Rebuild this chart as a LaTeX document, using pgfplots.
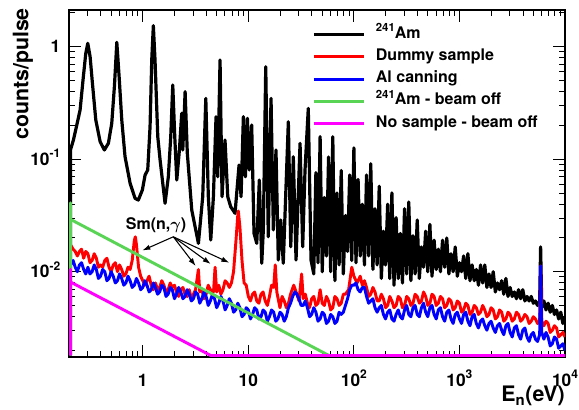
\documentclass[border=0pt]{standalone}
\usepackage{pgfplots}
\pgfplotsset{compat=1.18}
\usepackage{bm}
\usepackage{fontspec}
\setmainfont{TeX Gyre Heros}
\usetikzlibrary{arrows.meta}

\definecolor{rootgreen}{RGB}{89,212,84}
\definecolor{rootmagenta}{RGB}{255,0,255}
\definecolor{rootred}{RGB}{255,0,0}
\definecolor{rootblue}{RGB}{0,0,255}
\newcommand{\pw}[1]{10\raisebox{0.42em}{\fontsize{9}{9}\selectfont #1}}
\newcommand{\am}{\raisebox{0.42em}{\fontsize{8.5}{8.5}\selectfont 241}Am}

\begin{document}
\begin{tikzpicture}
\useasboundingbox (-51.75pt,-39.75pt) rectangle (382.5pt,267.75pt);
\begin{axis}[
  at={(0pt,0pt)}, anchor=south west,
  scale only axis, width=372pt, height=260.25pt,
  xmode=log, ymode=log,
  xmin=0.2, xmax=10000, ymin=0.001745, ymax=2.12,
  axis line style={line width=1pt},
  tick align=inside,
  major tick length=9pt, minor tick length=4.5pt,
  every tick/.style={black, line width=0.7pt},
  xtick={1,10,100,1000,10000},
  xticklabels={1,10,\pw{2},\pw{3},\pw{4}},
  minor xtick={0.2,0.3,0.4,0.5,0.6,0.7,0.8,0.9,2,3,4,5,6,7,8,9,20,30,40,50,60,70,80,90,200,300,400,500,600,700,800,900,2000,3000,4000,5000,6000,7000,8000,9000},
  ytick={0.01,0.1,1},
  yticklabels={\pw{-2},\pw{-1},1},
  minor ytick={0.002,0.003,0.004,0.005,0.006,0.007,0.008,0.009,0.02,0.03,0.04,0.05,0.06,0.07,0.08,0.09,0.2,0.3,0.4,0.5,0.6,0.7,0.8,0.9,2},
  ticklabel style={font=\fontsize{13}{13}\selectfont\bfseries},
  xticklabel style={anchor=base, yshift=-21.75pt},
  yticklabel style={anchor=base east, xshift=-3pt, yshift=-4.5pt},
  legend style={at={(0.482,0.961)}, anchor=north west, draw=none, fill=none,
    font=\fontsize{12}{14}\selectfont\bfseries, row sep=4.1pt, column sep=8pt,
    nodes={inner sep=0pt, text height=9pt, text depth=3.5pt}},
  legend cell align=left,
  legend image code/.code={\draw[#1, line width=2.2pt] (0pt,0pt) -- (37.5pt,0pt);},
  every axis plot/.append style={line width=2.2pt, line join=round, mark=none},
]

% 241Am
\addplot[black, line width=2.4pt] coordinates {
(0.2065,0.0018) (0.2065,0.1208) (0.2203,0.1483) (0.2371,0.2014) (0.2547,0.2735)
(0.2735,0.5408) (0.2884,0.873) (0.3013,1.072) (0.317,0.8147) (0.3334,0.4732)
(0.3589,0.2228) (0.3945,0.1432) (0.4325,0.1208) (0.4721,0.1384) (0.5082,0.2084)
(0.5383,0.4406) (0.5675,1.094) (0.597,0.5408) (0.6324,0.2228) (0.6792,0.1052)
(0.7586,0.06109) (0.8453,0.04487) (0.9078,0.04335) (0.9908,0.05321) (1.052,0.07244)
(1.114,0.08017) (1.172,0.1945) (1.216,0.7621) (1.259,1.538) (1.306,0.7621)
(1.387,0.1585) (1.459,0.0984) (1.626,0.04055) (1.746,0.06982) (1.841,0.1585)
(1.923,0.4571) (2.009,0.1585) (2.099,0.06531) (2.223,0.1208) (2.339,0.2559)
(2.393,0.1208) (2.518,0.3981) (2.642,0.1127) (2.911,0.03532) (3.365,0.01786)
(3.698,0.04645) (3.954,0.3475) (4.178,0.04645) (4.406,0.01914) (4.667,0.04645)
(4.943,0.2388) (5.129,0.06982) (5.395,0.7621) (5.636,0.04645) (6.012,0.1483)
(6.383,0.04645) (6.808,0.03784) (7.482,0.03304) (8.166,0.08872) (8.531,0.04645)
(8.974,0.2388) (9.376,0.06982) (9.795,0.2312) (10.21,0.08017) (10.76,0.2014)
(11.32,0.02193) (12.02,0.01786) (12.71,0.06531) (13.40,0.01189) (13.87,0.0235)
(14.62,0.6637) (15.45,0.02046) (16.41,0.3475) (17.26,0.0235) (18.28,0.1208)
(19.23,0.01271) (20.28,0.02884) (21.43,0.01189) (23.93,0.2153) (25.23,0.01667)
(26.67,0.1052) (28.31,0.01271) (30.90,0.1384) (32.73,0.01667) (34.44,0.08017)
(36.98,0.2831) (39.26,0.01271)
(41.69,0.00955) (43.65,0.07586) (45.71,0.01202) (47.86,0.1585) (50.12,0.0100)
(52.48,0.04571) (54.95,0.0138) (57.54,0.1047) (60.26,0.0100) (63.10,0.1585)
(66.07,0.008318) (69.18,0.05012) (72.44,0.01148) (75.86,0.07943) (79.43,0.00955)
(83.18,0.03162) (87.10,0.01514) (91.20,0.07244) (95.50,0.01259) (100,0.1259)
(104.7,0.01202) (109.6,0.06607) (114.8,0.0138) (120.2,0.03981) (125.9,0.01148)
(131.8,0.07244) (138.0,0.0138) (144.5,0.0912) (151.4,0.01047) (158.5,0.03631)
(166.0,0.01148) (173.8,0.05754) (182.0,0.00871) (190.5,0.02291) (199.5,0.01148)
(208.9,0.03981) (218.8,0.00871) (229.1,0.05012) (239.9,0.007586) (251.2,0.0302)
(263.0,0.00871) (275.4,0.02188) (288.4,0.007943) (302.0,0.03631) (316.2,0.00955)
(331.1,0.04169) (346.7,0.008318) (363.1,0.02089) (380.2,0.00955) (398.1,0.02884)
(416.9,0.00871) (436.5,0.0166) (457.1,0.01096) (478.6,0.02291) (501.2,0.0100)
(524.8,0.0263) (549.5,0.00912) (575.4,0.01905) (602.6,0.01047) (631.0,0.01585)
(660.7,0.0100) (691.8,0.01905) (724.4,0.01096) (758.6,0.01995) (794.3,0.00955)
(831.8,0.01445) (871.0,0.0100) (912.0,0.0166) (955.0,0.00912) (1000,0.01202)
(1047,0.0100) (1096,0.0138) (1148,0.00871) (1202,0.01445) (1259,0.008318)
(1318,0.01148) (1380,0.008318) (1445,0.01047) (1514,0.007586) (1585,0.01148)
(1660,0.007943) (1738,0.01148) (1820,0.007244) (1905,0.00955) (1995,0.007244)
(2089,0.0100) (2188,0.006607) (2291,0.007943) (2399,0.006918) (2512,0.008318)
(2630,0.00631) (2754,0.00871) (2884,0.006026) (3020,0.007244) (3162,0.006026)
(3311,0.006607) (3467,0.005754) (3631,0.006918) (3802,0.005754) (3981,0.006918)
(4169,0.005495) (4365,0.006026) (4571,0.005495) (4786,0.006026) (5012,0.005248)
(5248,0.005495) (5495,0.005012) (5754,0.005495) (5875,0.0166) (6026,0.004786)
(6310,0.005495) (6607,0.004571) (6918,0.005248) (7244,0.004365) (7586,0.005012)
(7943,0.004169) (8318,0.004571) (8710,0.003802) (9120,0.004365) (9550,0.003467)
(10000,0.003981)
};
\addlegendentry{\am}

% Dummy sample
\addplot[rootred] coordinates {
(0.2065,0.0018) (0.2065,0.01738) (0.2188,0.01585) (0.2291,0.01514) (0.2399,0.0138)
(0.2512,0.01514) (0.2630,0.01585) (0.2754,0.01318) (0.2884,0.01514) (0.3020,0.01445)
(0.3162,0.01202) (0.3311,0.01259) (0.3467,0.01445) (0.3631,0.01318) (0.3802,0.01096)
(0.3981,0.01148) (0.4169,0.01096) (0.4365,0.01259) (0.4571,0.01318) (0.4786,0.01096)
(0.5012,0.0100) (0.5248,0.01148) (0.5495,0.01202) (0.5754,0.0100) (0.6026,0.01148)
(0.6310,0.01047) (0.6607,0.00912) (0.6918,0.00955) (0.7244,0.01096) (0.7586,0.01047)
(0.7943,0.01259) (0.8318,0.01905) (0.8511,0.02042) (0.8710,0.01738) (0.9120,0.01096)
(0.9550,0.00912) (1,0.008318) (1.047,0.007586) (1.096,0.008318) (1.148,0.00912)
(1.202,0.007586) (1.259,0.006918) (1.318,0.007943) (1.380,0.006918) (1.445,0.007244)
(1.514,0.008318) (1.585,0.007586) (1.660,0.006607) (1.738,0.006918) (1.820,0.007943)
(1.905,0.007244) (1.995,0.007586) (2.089,0.006607) (2.188,0.006026) (2.291,0.006918)
(2.399,0.007244) (2.512,0.00631) (2.630,0.006026) (2.754,0.006918) (2.884,0.005754)
(3.020,0.00631) (3.162,0.006918) (3.365,0.01047) (3.467,0.006607) (3.631,0.006918)
(3.802,0.005754) (3.981,0.00631) (4.169,0.007586) (4.365,0.006918) (4.677,0.006607)
(4.842,0.01096) (5.012,0.006607) (5.248,0.007586) (5.495,0.00631) (5.754,0.006918)
(6.026,0.008318) (6.310,0.007943) (6.607,0.007244) (6.918,0.007943) (7.244,0.0100)
(7.586,0.01738) (7.943,0.03162) (8.035,0.03467) (8.318,0.02512) (8.710,0.01259)
(9.120,0.007943) (9.550,0.007586) (10,0.006026) (10.47,0.005495) (10.96,0.00631)
(11.48,0.006607) (12.02,0.005495) (12.59,0.005248) (13.18,0.00631) (13.80,0.006607)
(14.45,0.005495) (15.14,0.005012) (15.85,0.006026) (16.60,0.007586) (17.38,0.007244)
(17.99,0.01148) (18.62,0.006607) (19.95,0.004786) (20.89,0.006026) (21.88,0.005495)
(22.91,0.004786) (23.99,0.005248) (25.12,0.00631) (26.92,0.007586) (28.84,0.00631)
(30.20,0.005495) (31.99,0.00955) (33.11,0.005754) (34.67,0.00631) (36.31,0.005248)
(38.02,0.004786) (39.81,0.005754) (41.69,0.006026) (43.65,0.005012) (45.71,0.005248)
(47.86,0.006918) (50.12,0.005248) (52.48,0.005012) (54.95,0.006026) (57.54,0.005495)
(60.26,0.004571) (63.10,0.004786) (66.07,0.006026) (69.18,0.005754) (72.44,0.005012)
(75.86,0.005248) (79.43,0.00631) (83.18,0.00631) (89.13,0.006918) (95.50,0.01096)
(100,0.00912) (107.2,0.007943) (114.8,0.00912) (120.2,0.007586) (125.9,0.008318)
(131.8,0.007244) (138.0,0.006026) (144.5,0.00631) (151.4,0.007244) (158.5,0.006607)
(166.0,0.005495) (173.8,0.005495) (182.0,0.00631) (190.5,0.005754) (199.5,0.004786)
(208.9,0.005012) (218.8,0.006026) (229.1,0.005495) (239.9,0.004786) (251.2,0.005012)
(263.0,0.006026) (275.4,0.005754) (288.4,0.004786) (302.0,0.005012) (316.2,0.006026)
(331.1,0.005754) (346.7,0.005012) (363.1,0.005248) (380.2,0.00631) (398.1,0.006026)
(416.9,0.005248) (436.5,0.005495) (457.1,0.006607) (478.6,0.006026) (501.2,0.005012)
(524.8,0.005248) (549.5,0.00631) (575.4,0.006026) (602.6,0.005012) (631.0,0.005248)
(660.7,0.006026) (691.8,0.005754) (724.4,0.004786) (758.6,0.005012) (794.3,0.005754)
(831.8,0.005495) (871.0,0.004571) (912.0,0.004786) (955.0,0.005495) (1000,0.005248)
(1047,0.004365) (1096,0.004571) (1148,0.005248) (1202,0.005012) (1259,0.004169)
(1318,0.004365) (1380,0.005012) (1445,0.004786) (1514,0.004169) (1585,0.004365)
(1660,0.005012) (1738,0.004571) (1820,0.003981) (1905,0.004169) (1995,0.004786)
(2089,0.004571) (2188,0.003802) (2291,0.003981) (2399,0.004571) (2512,0.004365)
(2630,0.003631) (2754,0.003802) (2884,0.004365) (3020,0.004169) (3162,0.003631)
(3311,0.003802) (3467,0.004365) (3631,0.004169) (3802,0.003631) (3981,0.003802)
(4169,0.004169) (4365,0.003981) (4571,0.003467) (4786,0.003631) (5012,0.003981)
(5248,0.003802) (5495,0.003467) (5754,0.003631) (5875,0.01122) (6026,0.003631)
(6310,0.003311) (6607,0.003631) (6918,0.003467) (7244,0.002884) (7586,0.003020)
(7943,0.003311) (8318,0.003162) (8710,0.00263) (9120,0.002754) (9550,0.002884)
(10000,0.00263)
};
\addlegendentry{Dummy sample}

% Al canning
\addplot[rootblue] coordinates {
(0.2065,0.0018) (0.2065,0.01148) (0.2188,0.01259) (0.2291,0.01096) (0.2399,0.0100)
(0.2512,0.01148) (0.2630,0.01202) (0.2754,0.01047) (0.2884,0.00955) (0.3020,0.01096)
(0.3162,0.00955) (0.3311,0.0100) (0.3467,0.01148) (0.3631,0.01047) (0.3802,0.00871)
(0.3981,0.00912) (0.4169,0.01047) (0.4365,0.0100) (0.4571,0.008318) (0.4786,0.00871)
(0.5012,0.0100) (0.5248,0.00912) (0.5495,0.007943) (0.5754,0.008318) (0.6026,0.00955)
(0.6310,0.00871) (0.6607,0.007586) (0.6918,0.007943) (0.7244,0.00912) (0.7586,0.008318)
(0.7943,0.007244) (0.8318,0.007586) (0.8710,0.00871) (0.9120,0.007943) (0.9550,0.006918)
(1,0.007244) (1.047,0.008318) (1.096,0.007586) (1.148,0.006607) (1.202,0.006918)
(1.259,0.007943) (1.318,0.007244) (1.380,0.00631) (1.445,0.006607) (1.514,0.007586)
(1.585,0.007244) (1.660,0.006026) (1.738,0.00631) (1.820,0.007244) (1.905,0.006918)
(1.995,0.005754) (2.089,0.00631) (2.188,0.007244) (2.291,0.006607) (2.399,0.005754)
(2.512,0.006026) (2.630,0.006918) (2.754,0.00631) (2.884,0.005495) (3.020,0.005754)
(3.162,0.006607) (3.311,0.00631) (3.467,0.005248) (3.631,0.005754) (3.802,0.006607)
(3.981,0.006026) (4.169,0.005012) (4.365,0.005495) (4.571,0.00631) (4.786,0.005754)
(5.012,0.004786) (5.248,0.005248) (5.495,0.006026) (5.754,0.005495) (6.026,0.004571)
(6.310,0.005012) (6.607,0.005754) (6.918,0.005248) (7.244,0.004365) (7.586,0.004571)
(7.943,0.005248) (8.318,0.004786) (8.710,0.003981) (9.120,0.004169) (9.550,0.004786)
(10,0.004571) (10.47,0.003802) (10.96,0.004169) (11.48,0.004786) (12.02,0.004571)
(12.59,0.003802) (13.18,0.003981) (13.80,0.004571) (14.45,0.004365) (15.14,0.003631)
(15.85,0.003981) (16.60,0.004571) (17.38,0.004365) (18.20,0.003631) (19.05,0.003802)
(19.95,0.004365) (20.89,0.004169) (21.88,0.003631) (22.91,0.003981) (23.99,0.004786)
(25.12,0.005248) (26.30,0.006026) (27.54,0.006607) (28.84,0.00631) (30.20,0.005754)
(31.62,0.005012) (33.11,0.005012) (34.67,0.005495) (36.31,0.004786) (38.02,0.003981)
(39.81,0.004169) (41.69,0.004786) (43.65,0.004365) (45.71,0.003631) (47.86,0.003802)
(50.12,0.004365) (52.48,0.004169) (54.95,0.003467) (57.54,0.003631) (60.26,0.004169)
(63.10,0.003981) (66.07,0.003467) (69.18,0.003631) (72.44,0.004365) (75.86,0.004169)
(79.43,0.004365) (83.18,0.005012) (87.10,0.005754) (91.20,0.006918) (95.50,0.007586)
(100,0.007586) (104.7,0.007943) (109.6,0.006918) (114.8,0.006607) (120.2,0.007244)
(125.9,0.007244) (131.8,0.006026) (138.0,0.005248) (144.5,0.005495) (151.4,0.005754)
(158.5,0.004786) (166.0,0.004365) (173.8,0.004786) (182.0,0.005012) (190.5,0.004169)
(199.5,0.003802) (208.9,0.004365) (218.8,0.004571) (229.1,0.003802) (239.9,0.003631)
(251.2,0.004169) (263.0,0.004571) (275.4,0.003981) (288.4,0.003802) (302.0,0.004571)
(316.2,0.005012) (331.1,0.004169) (346.7,0.003981) (363.1,0.004786) (380.2,0.005012)
(398.1,0.004169) (416.9,0.003981) (436.5,0.004786) (457.1,0.005248) (478.6,0.004365)
(501.2,0.003981) (524.8,0.004786) (549.5,0.005012) (575.4,0.004169) (602.6,0.003802)
(631.0,0.004571) (660.7,0.004786) (691.8,0.003981) (724.4,0.003631) (758.6,0.004365)
(794.3,0.004571) (831.8,0.003802) (871.0,0.003467) (912.0,0.004169) (955.0,0.004365)
(1000,0.003802) (1047,0.003467) (1096,0.004169) (1148,0.004365) (1202,0.003631)
(1259,0.003311) (1318,0.003981) (1380,0.004169) (1445,0.003467) (1514,0.003162)
(1585,0.003631) (1660,0.003802) (1738,0.003311) (1820,0.00302) (1905,0.003467)
(1995,0.003631) (2089,0.003162) (2188,0.002884) (2291,0.003311) (2399,0.003467)
(2512,0.00302) (2630,0.002754) (2754,0.003311) (2884,0.003467) (3020,0.002884)
(3162,0.00263) (3311,0.003162) (3467,0.003311) (3631,0.002754) (3802,0.002512)
(3981,0.00302) (4169,0.003162) (4365,0.00263) (4571,0.002399) (4786,0.002754)
(5012,0.002884) (5248,0.002512) (5495,0.002399) (5754,0.002754) (5875,0.01122)
(6026,0.002884) (6310,0.002512) (6607,0.002884) (6918,0.00263) (7244,0.002188)
(7586,0.002291) (7943,0.00263) (8318,0.002512) (8710,0.002089) (9120,0.002188)
(9550,0.002291) (10000,0.001995)
};
\addlegendentry{Al canning}

% 241Am - beam off
\addplot[rootgreen] coordinates {
(0.2065,0.0018) (0.2065,0.041) (0.2065,0.0292) (58,0.0018) (10000,0.0018)
};
\addlegendentry{\am{} - beam off}

% No sample - beam off
\addplot[rootmagenta] coordinates {
(0.2065,0.0018) (0.2065,0.0105) (0.2065,0.0081) (4.4,0.0018) (10000,0.0018)
};
\addlegendentry{No sample - beam off}

\node[font=\fontsize{12}{12}\selectfont\bfseries] at (rel axis cs:0.1754,0.3804) {Sm(n,$\bm{\gamma}$)};
\draw[line width=0.8pt, -{Latex[length=6pt,width=4pt]}] (rel axis cs:0.2103,0.3464) -- (rel axis cs:0.1478,0.3069);
\draw[line width=0.8pt, -{Latex[length=6pt,width=4pt]}] (rel axis cs:0.2103,0.3464) -- (rel axis cs:0.2554,0.2622);
\draw[line width=0.8pt, -{Latex[length=6pt,width=4pt]}] (rel axis cs:0.2103,0.3464) -- (rel axis cs:0.2857,0.2680);
\draw[line width=0.8pt, -{Latex[length=6pt,width=4pt]}] (rel axis cs:0.2103,0.3464) -- (rel axis cs:0.3232,0.2718);
\end{axis}
% axis titles, placed against the axis box (0,0)--(372pt,260.25pt)
\node[font=\fontsize{16}{16}\selectfont\bfseries, anchor=base east, inner sep=0pt] at (372pt,-33.6pt) {E\textsubscript{n}(eV)};
\node[font=\fontsize{16}{16}\selectfont\bfseries, rotate=90, anchor=east, inner sep=0pt] at (-34.6pt,261.8pt) {counts/pulse};
\end{tikzpicture}
\end{document}
